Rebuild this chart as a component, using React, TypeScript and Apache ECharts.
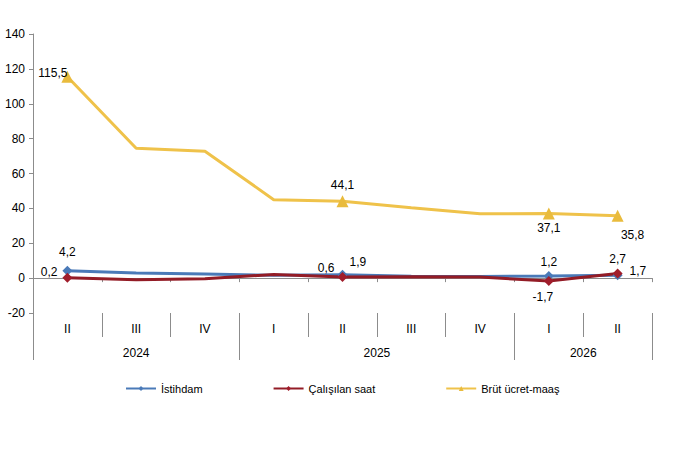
import React, { useEffect, useRef } from "react";
import * as echarts from "echarts";

const quarters = ["II", "III", "IV", "I", "II", "III", "IV", "I", "II"];
const years = ["2024", "2024", "2024", "2025", "2025", "2025", "2025", "2026", "2026"];
const istihdam = [4.2, 3.0, 2.3, 1.6, 1.9, 1.1, 0.9, 1.2, 1.7];
const calisilanSaat = [0.2, -1.0, -0.4, 2.1, 0.6, 0.8, 0.6, -1.7, 2.7];
const brutUcret = [115.5, 74.5, 72.8, 45.0, 44.1, 40.3, 36.9, 37.1, 35.8];
const labeledIdx = [0, 4, 7, 8];
const seriesNames = ["İstihdam", "Çalışılan saat", "Brüt ücret-maaş"];
const yMin = -20;
const yMax = 140;
const yStep = 20;

const FONT = "Liberation Sans, Arial, sans-serif";

function yearGroups() {
  const bounds: number[] = [0];
  const labels: string[] = [years[0]];
  for (let i = 1; i < years.length; i++) {
    if (years[i] !== years[i - 1]) {
      bounds.push(i);
      labels.push(years[i]);
    }
  }
  bounds.push(years.length);
  const centers = labels.map((_, k) => (bounds[k] + bounds[k + 1]) / 2);
  return { bounds, labels, centers };
}

function fmt(v: number) {
  return v.toFixed(1).replace(".", ",");
}

export default function App() {
  const ref = useRef<HTMLDivElement>(null);
  useEffect(() => {
    if (!ref.current) return;
    const chart = echarts.init(ref.current, undefined, { renderer: "svg" });
    const yg = yearGroups();

    const labelStyles: Record<string, Record<number, any>> = {
      ist: {
        0: { position: "top", distance: 8 },
        4: { position: "right", offset: [-3, -13] },
        7: { position: "top", distance: 3 },
        8: { position: "right", offset: [2, -4] },
      },
      saat: {
        0: { position: "left", offset: [0, -6] },
        4: { position: "left", offset: [2, -9] },
        7: { position: "bottom", offset: [-6, 0] },
        8: { position: "top", distance: 3 },
      },
      brut: {
        0: { position: "left", offset: [6, -4], distance: 0 },
        4: { position: "top", distance: 4 },
        7: { position: "bottom", distance: 3 },
        8: { position: "bottom", offset: [15, 2] },
      },
    };

    const build = (vals: number[], key: string, symbol: string, size: number) =>
      vals.map((v, i) =>
        labeledIdx.includes(i)
          ? {
              value: v,
              symbol,
              symbolSize: size,
              label: {
                show: true,
                formatter: () => fmt(v),
                color: "#000",
                fontSize: 12,
                fontFamily: FONT,
                ...labelStyles[key][i],
              },
            }
          : { value: v, symbol: "none" }
      );

    const option: any = {
      animation: false,
      textStyle: { fontFamily: FONT },
      grid: { left: 33, right: 33, top: 34, bottom: 137 },
      legend: {
        left: 125,
        top: 383,
        padding: 0,
        itemGap: 70,
        itemWidth: 30,
        itemHeight: 6,
        textStyle: { fontSize: 11, color: "#000", fontFamily: FONT },
        data: seriesNames,
      },
      xAxis: [
        {
          type: "category",
          data: quarters,
          axisLine: { lineStyle: { color: "#8c8c8c", width: 1 } },
          axisTick: { show: true, interval: 0, length: 4, lineStyle: { color: "#8c8c8c" } },
          axisLabel: { show: false },
        },
        {
          type: "category",
          data: quarters,
          position: "bottom",
          axisLine: { show: false, onZero: false },
          axisTick: { show: true, interval: 0, length: 24, lineStyle: { color: "#8c8c8c" } },
          axisLabel: { interval: 0, margin: 10, fontSize: 12, color: "#000", fontFamily: FONT },
        },
        {
          type: "value",
          min: 0,
          max: quarters.length,
          position: "bottom",
          axisLine: { show: false, onZero: false },
          splitLine: { show: false },
          axisTick: {
            show: true,
            customValues: yg.bounds,
            length: 47,
            lineStyle: { color: "#8c8c8c" },
          },
          axisLabel: {
            customValues: yg.centers,
            margin: 34,
            fontSize: 12,
            color: "#000",
            fontFamily: FONT,
            formatter: (v: number) => {
              const k = yg.centers.indexOf(v);
              return k >= 0 ? yg.labels[k] : "";
            },
          },
        },
      ],
      yAxis: {
        type: "value",
        min: yMin,
        max: yMax,
        interval: yStep,
        axisLine: { show: true, lineStyle: { color: "#8c8c8c" } },
        axisTick: { show: true, length: 4, lineStyle: { color: "#8c8c8c" } },
        splitLine: { show: false },
        axisLabel: { fontSize: 12, color: "#000", margin: 8, fontFamily: FONT },
      },
      series: [
        {
          name: seriesNames[0],
          type: "line",
          xAxisIndex: 0,
          symbol: "diamond",
          symbolSize: 10,
          color: "#4a7ab8",
          lineStyle: { width: 3, color: "#4a7ab8" },
          itemStyle: { color: "#4a7ab8" },
          data: build(istihdam, "ist", "diamond", 10),
        },
        {
          name: seriesNames[1],
          type: "line",
          xAxisIndex: 0,
          symbol: "diamond",
          symbolSize: 10,
          color: "#931c26",
          lineStyle: { width: 3, color: "#931c26" },
          itemStyle: { color: "#a01d2b" },
          data: build(calisilanSaat, "saat", "diamond", 10),
        },
        {
          name: seriesNames[2],
          type: "line",
          xAxisIndex: 0,
          symbol: "triangle",
          symbolSize: 12,
          color: "#efc24a",
          lineStyle: { width: 3, color: "#efc24a" },
          itemStyle: { color: "#e9bb3c" },
          data: build(brutUcret, "brut", "triangle", 12),
        },
      ],
    };
    chart.setOption(option);
    return () => chart.dispose();
  }, []);
  return <div ref={ref} style={{ width: 685, height: 450, position: "absolute", left: 0, top: 0 }} />;
}
